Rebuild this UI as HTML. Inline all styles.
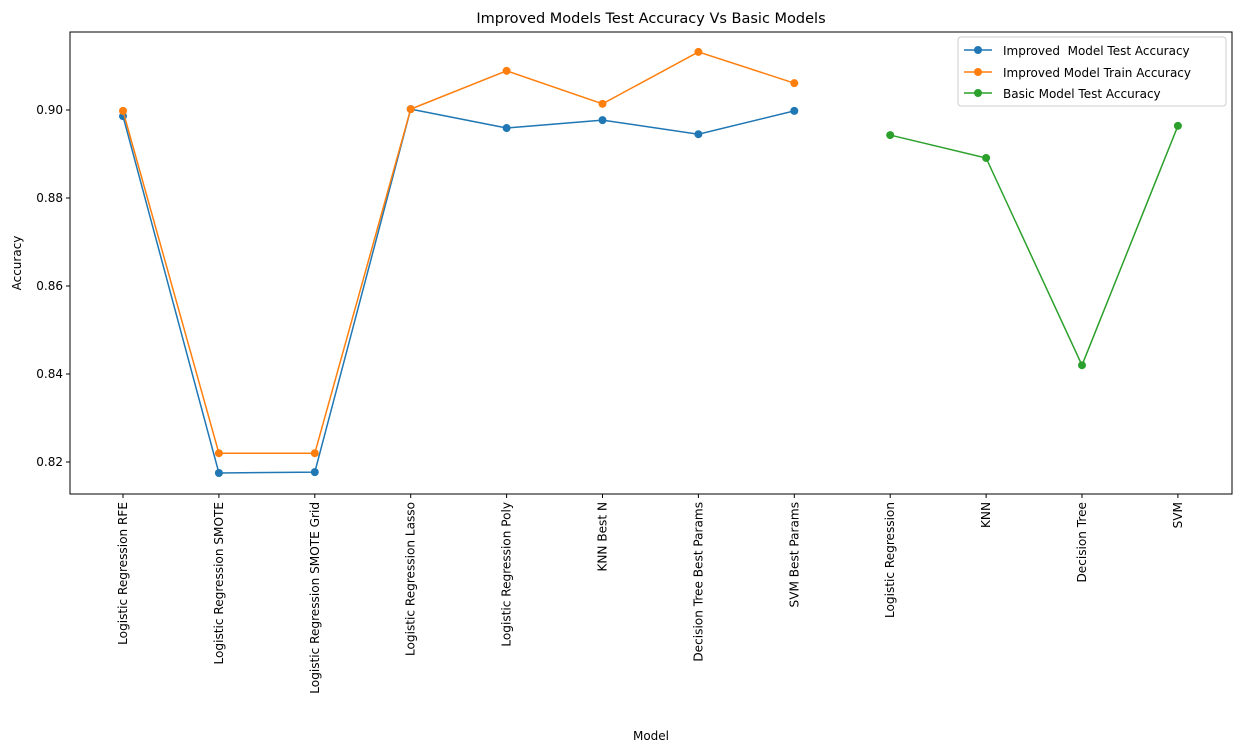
<!DOCTYPE html>
<html><head><meta charset="utf-8">
<style>
body{margin:0;background:#fff;}
svg{display:block;font-family:"DejaVu Sans","Liberation Sans",sans-serif;}
</style></head>
<body>
<svg id="chart" width="1242" height="753">
<text x="651" y="23" text-anchor="middle" font-size="14.5">Improved Models Test Accuracy Vs Basic Models</text>
<text x="651" y="740" text-anchor="middle" font-size="12">Model</text>
<text transform="translate(21,263) rotate(-90)" text-anchor="middle" font-size="12">Accuracy</text>
<g id="axes"></g>
<g id="series"></g>
<rect x="70" y="32" width="1162" height="462" fill="none" stroke="#000" stroke-width="1"/>
<g>
<rect x="958" y="37" width="268" height="69" rx="3" fill="#fff" stroke="#ccc"/>
<g><line x1="964" x2="992" y1="50" y2="50" stroke="#1f77b4" stroke-width="1.5"/><circle cx="978" cy="50" r="4" fill="#1f77b4"/><text x="1003" y="55" font-size="12">Improved &#160;Model Test Accuracy</text></g>
<g><line x1="964" x2="992" y1="72" y2="72" stroke="#ff7f0e" stroke-width="1.5"/><circle cx="978" cy="72" r="4" fill="#ff7f0e"/><text x="1003" y="77" font-size="12">Improved Model Train Accuracy</text></g>
<g><line x1="964" x2="992" y1="93" y2="93" stroke="#2ca02c" stroke-width="1.5"/><circle cx="978" cy="93" r="4" fill="#2ca02c"/><text x="1003" y="98" font-size="12">Basic Model Test Accuracy</text></g>
</g>
</svg>
<script>
const categories=["Logistic Regression RFE","Logistic Regression SMOTE","Logistic Regression SMOTE Grid","Logistic Regression Lasso","Logistic Regression Poly","KNN Best N","Decision Tree Best Params","SVM Best Params","Logistic Regression","KNN","Decision Tree","SVM"];
const improvedTest=[0.8986,0.8175,0.8177,0.9002,0.8959,0.8977,0.8945,0.8998];
const improvedTrain=[0.8998,0.822,0.822,0.9002,0.9089,0.9014,0.9132,0.9061];
const basicTest=[0.8943,0.8891,0.8420,0.8964];
const basicOffset=8;
const yTicks=[0.82,0.84,0.86,0.88,0.90];
const NS="http://www.w3.org/2000/svg";
function xs(i){return 123+i*95.9;}
function ys(v){return 462-(v-0.82)*4400;}
function mk(tag,attrs,parent){const e=document.createElementNS(NS,tag);for(const k in attrs)e.setAttribute(k,attrs[k]);parent.appendChild(e);return e;}
const axes=document.getElementById('axes'),ser=document.getElementById('series');
yTicks.forEach(t=>{const y=ys(t);
 const l=mk('line',{x1:66,x2:70,y1:y,y2:y,stroke:'#000'},axes);
 
 
 const tx=mk('text',{x:63,y:y+4,'text-anchor':'end','font-size':12},axes);tx.textContent=t.toFixed(2);
 
 });
categories.forEach((c,i)=>{const x=xs(i);
 const l=mk('line',{x1:x,x2:x,y1:494,y2:498,stroke:'#000'},axes);
 
 
 const tx=mk('text',{transform:`translate(${x+4},502) rotate(-90)`,'text-anchor':'end','font-size':12.1},axes);tx.textContent=c;
 
 });
function draw(vals,off,color,name){
 const pts=vals.map((v,i)=>[xs(i+off),ys(v)]);
 const p=mk('polyline',{points:pts.map(p=>p.join(',')).join(' '),fill:'none',stroke:color,'stroke-width':1.5},ser);
 
 
 pts.forEach(q=>{const c=mk('circle',{cx:q[0],cy:q[1],r:4,fill:color},ser);
  
  });
}
draw(improvedTest,0,'#1f77b4','improved-test');
draw(improvedTrain,0,'#ff7f0e','improved-train');
draw(basicTest,basicOffset,'#2ca02c','basic-test');
</script>
</body></html>
